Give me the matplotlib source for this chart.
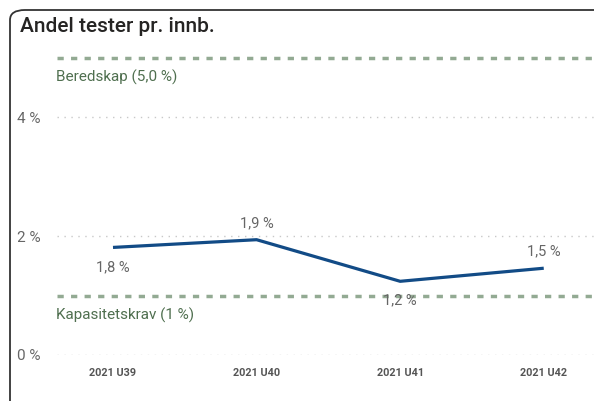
import matplotlib
matplotlib.use("Agg")
import matplotlib.pyplot as plt
from matplotlib.patches import FancyBboxPatch

weeks = ["2021 U39", "2021 U40", "2021 U41", "2021 U42"]
share = [1.81, 1.94, 1.24, 1.46]
labels = ["1,8 %", "1,9 %", "1,2 %", "1,5 %"]
label_above = [False, True, False, True]
y_ticks = [0, 2, 4]
y_tick_labels = ["0 %", "2 %", "4 %"]
ref_values = [5.0, 1.0]
ref_labels = ["Beredskap (5,0 %)", "Kapasitetskrav (1 %)"]

plt.rcParams["font.family"] = ["Roboto", "DejaVu Sans"]

W, H = 594, 401
fig = plt.figure(figsize=(W / 100, H / 100), dpi=100)

# card border with rounded top-left corner, running off the right/bottom edges
frame = FancyBboxPatch((10 / W, -0.2), 1.2, 1 - 10 / H + 0.2,
                       boxstyle="round,pad=0,rounding_size=0.025",
                       transform=fig.transFigure, fill=False,
                       edgecolor="#333333", linewidth=1.3)
fig.patches.append(frame)

fig.text(20 / W, 1 - 27 / H, "Andel tester pr. innb.", fontsize=15,
         color="#252423", va="center", ha="left", fontweight="medium")

ax = fig.add_axes([57 / W, 1 - 355 / H, 1 - 57 / W, 315 / H])
x = list(range(len(weeks)))
ax.set_xlim(-0.39, 3.35)
ax.set_ylim(0, 5.3)

for v in y_ticks:
    ax.axhline(v, color="#c8c8c8", linestyle=(0, (1, 4)), linewidth=1, zorder=1)

for v, lab in zip(ref_values, ref_labels):
    ax.axhline(v, color="#93aa93", linestyle=(0, (1.8, 2.1)), linewidth=2.5, zorder=2)
    ax.text(-0.4, v - 0.33, lab, color="#4f6f4f", fontsize=11,
            ha="left", va="center", transform=ax.transData)

ax.plot(x, share, color="#124b86", linewidth=2.3, solid_capstyle="butt", zorder=3)

for xi, yi, lab, above in zip(x, share, labels, label_above):
    ax.annotate(lab, (xi, yi), xytext=(0, 12 if above else -14),
                textcoords="offset points", ha="center", va="center",
                fontsize=10.5, color="#666666", zorder=4)

ax.set_yticks(y_ticks)
ax.set_yticklabels(y_tick_labels, color="#666666", fontsize=11)
ax.set_xticks(x)
ax.set_xticklabels(weeks, color="#555555", fontsize=7.8, fontweight="bold")
ax.tick_params(length=0, axis="y", pad=12)
ax.tick_params(length=0, axis="x", pad=9)
for s in ax.spines.values():
    s.set_visible(False)
ax.patch.set_alpha(0)

fig.savefig("out.png", dpi=100)
